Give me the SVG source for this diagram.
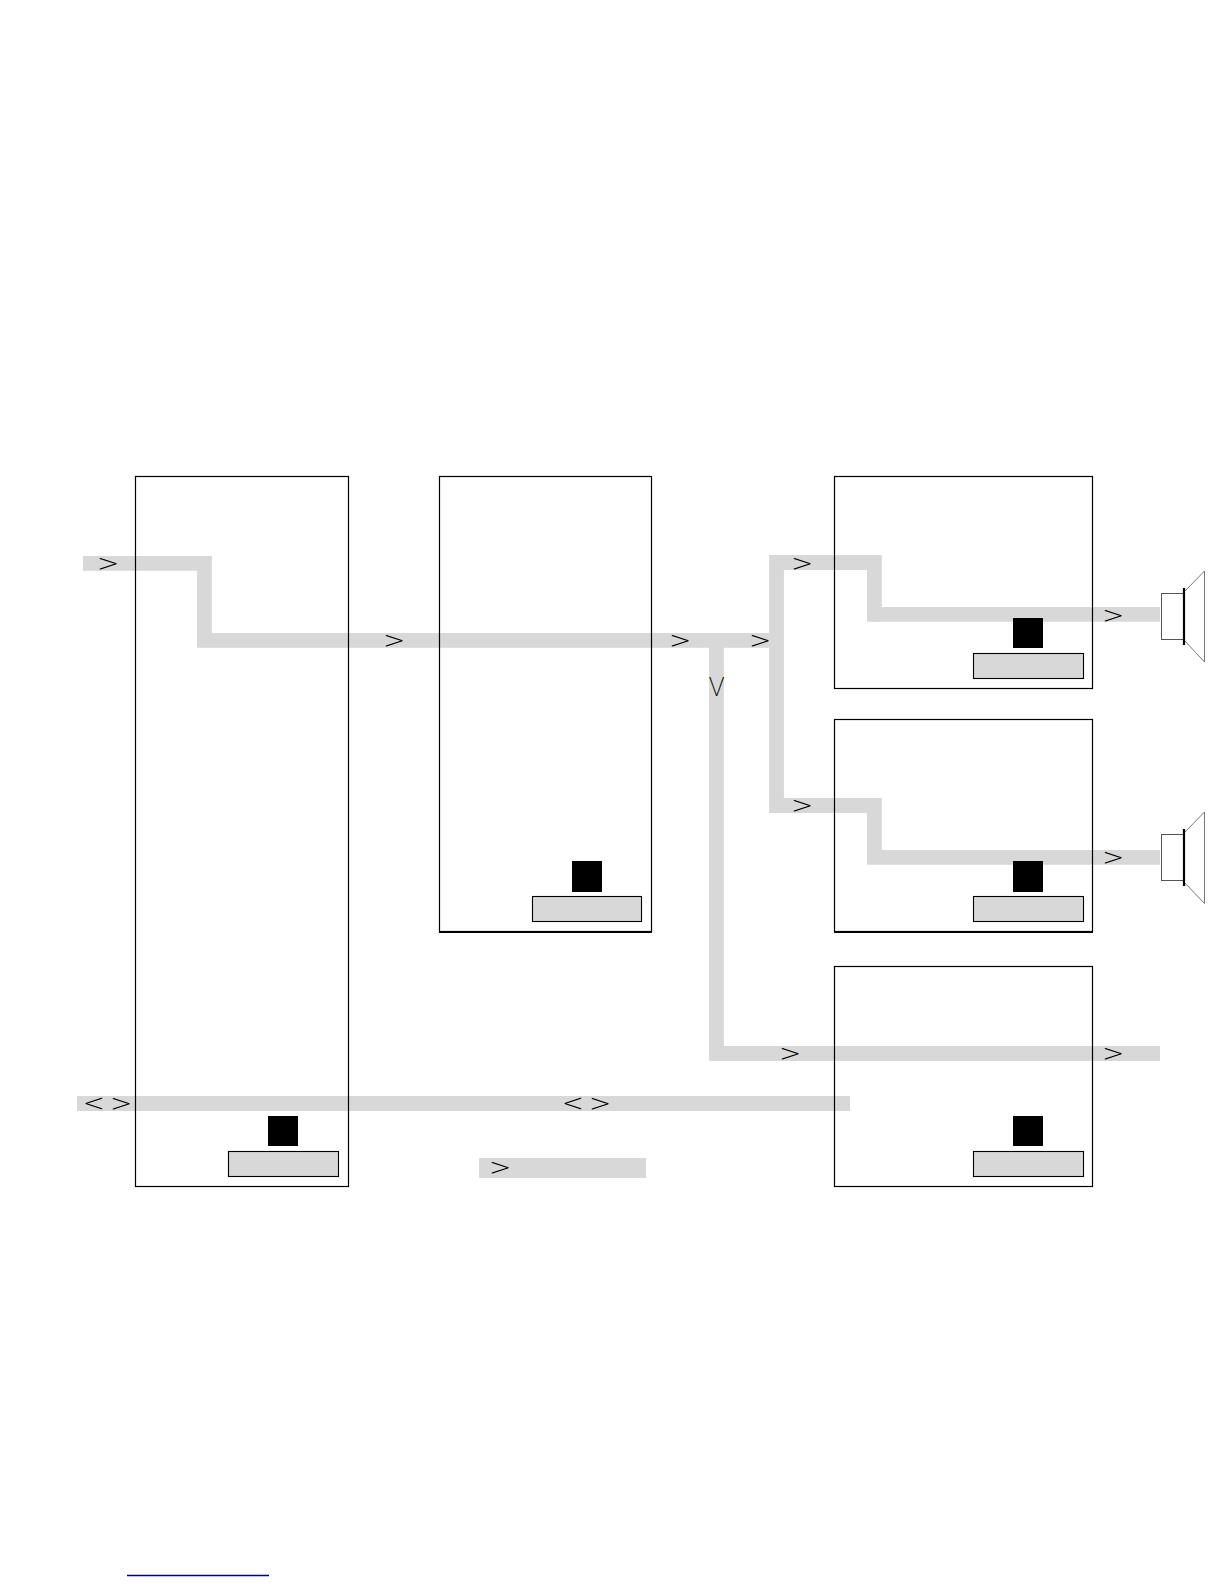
<svg xmlns="http://www.w3.org/2000/svg" width="1224" height="1584" viewBox="0 0 1224 1584">
<style>
.box{fill:none;stroke:#000;stroke-width:1.2}
.edge{stroke:#000;stroke-width:2}
.band{fill:none;stroke:#d8d8d8;stroke-width:14.8;stroke-linejoin:miter}
.tag{fill:#d8d8d8;stroke:#000;stroke-width:1.1}
.k{fill:#000}
.spk{fill:#fff;stroke:#555;stroke-width:1}
.cone{fill:#fff;stroke:#777;stroke-width:1}
.mag{stroke:#000;stroke-width:2.2}
.g{font-family:"Roboto","Liberation Sans",sans-serif;font-weight:200;font-size:30px;fill:#000;text-anchor:middle}
</style>
<rect width="1224" height="1584" fill="#fff"/>
<g id="connectors">
<path class="band" d="M83 563.4H204.5V640.4H769"/>
<path class="band" d="M881.7 614.4H874.4V562.5H776.5V805.5H874.4V857.4H1160"/>
<path class="band" d="M716.5 640V1053.5H1160"/>
<path class="band" d="M77 1103.5H850"/>
<rect x="479" y="1158" width="167" height="20" fill="#d8d8d8"/>
<path class="band" d="M874 614.4H1160"/>
</g>
<g id="node-1"><rect class="box" x="135.5" y="476.5" width="213" height="710"/><rect class="k" x="268" y="1116" width="30" height="30"/><rect class="tag" x="228.5" y="1151.5" width="110" height="25"/></g>
<g id="node-2"><rect class="box" x="439.5" y="476.5" width="212" height="455"/><line class="edge" x1="439" y1="932" x2="652" y2="932"/><rect class="k" x="572" y="861" width="30" height="31"/><rect class="tag" x="532.5" y="896.5" width="109" height="25"/></g>
<g id="node-3"><rect class="box" x="834.5" y="476.5" width="258" height="212"/><rect class="k" x="1013" y="618" width="30" height="30"/><rect class="tag" x="973.5" y="653.5" width="110" height="25"/></g>
<g id="node-4"><rect class="box" x="834.5" y="719.5" width="258" height="212"/><line class="edge" x1="834" y1="932" x2="1093" y2="932"/><rect class="k" x="1013" y="861" width="30" height="31"/><rect class="tag" x="973.5" y="896.5" width="110" height="25"/></g>
<g id="node-5"><rect class="box" x="834.5" y="966.5" width="258" height="220"/><rect class="k" x="1013" y="1116" width="30" height="30"/><rect class="tag" x="973.5" y="1151.5" width="110" height="25"/></g>
<g id="speaker-1"><path class="cone" d="M1184 592L1204.5 571V662L1184 640"/><rect class="spk" x="1161.5" y="593.5" width="22" height="46"/><line class="mag" x1="1184" y1="588" x2="1184" y2="645"/></g>
<g id="speaker-2"><path class="cone" d="M1184 833L1204.5 812V903.5L1184 882"/><rect class="spk" x="1161.5" y="834.5" width="22" height="46"/><line class="mag" x1="1184" y1="829" x2="1184" y2="886"/></g>
<g id="labels">
<text class="g" transform="translate(108 572.5) scale(1.35 1)">&gt;</text>
<text class="g" transform="translate(394 650) scale(1.35 1)">&gt;</text>
<text class="g" transform="translate(680 650) scale(1.35 1)">&gt;</text>
<text class="g" transform="translate(760 650) scale(1.35 1)">&gt;</text>
<text class="g" transform="translate(802 572.5) scale(1.35 1)">&gt;</text>
<text class="g" transform="translate(1113 624.5) scale(1.35 1)">&gt;</text>
<text class="g" transform="translate(802 814.5) scale(1.35 1)">&gt;</text>
<text class="g" transform="translate(1113 867) scale(1.35 1)">&gt;</text>
<text class="g" style="font-size:26px" x="716.5" y="696">V</text>
<text class="g" transform="translate(790 1062.5) scale(1.35 1)">&gt;</text>
<text class="g" transform="translate(1113 1062.5) scale(1.35 1)">&gt;</text>
<text class="g" transform="translate(94.5 1113) scale(1.35 1)">&lt;</text>
<text class="g" transform="translate(121 1113) scale(1.35 1)">&gt;</text>
<text class="g" transform="translate(573.5 1113) scale(1.35 1)">&lt;</text>
<text class="g" transform="translate(600 1113) scale(1.35 1)">&gt;</text>
<text class="g" transform="translate(500 1177) scale(1.35 1)">&gt;</text>
</g>
<line id="link-rule" x1="127" y1="1575.5" x2="269" y2="1575.5" stroke="#00008b" stroke-width="1.3"/>
</svg>
